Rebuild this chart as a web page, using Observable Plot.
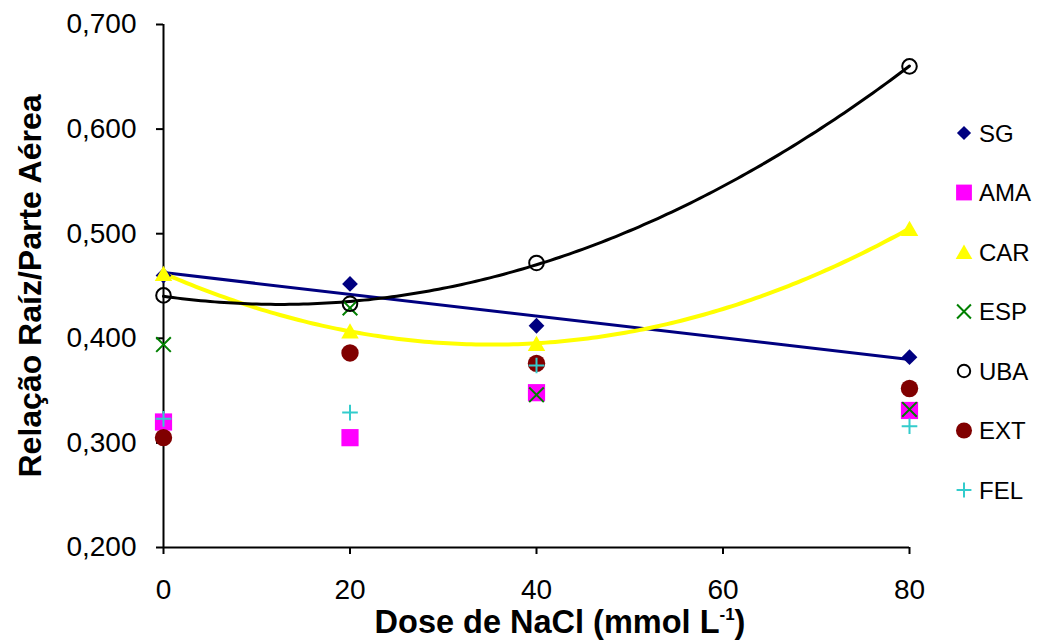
<!DOCTYPE html>
<html>
<head>
<meta charset="utf-8">
<script src="https://cdn.jsdelivr.net/npm/d3@7"></script>
<script src="https://cdn.jsdelivr.net/npm/@observablehq/plot@0.6"></script>
<style>
  body { margin: 0; background: #fff; }
  #chart { position: relative; width: 1042px; height: 641px; overflow: hidden; }
  #legend { position: absolute; left: 0; top: 0; }
</style>
</head>
<body>
<div id="chart"></div>
<script>
// NaCl doses (mmol L-1)
const doses = [0, 20, 40, 80];

// Root / shoot ratio per cultivar at each dose
const SG  = [0.460, 0.452, 0.412, 0.382];
const AMA = [0.320, 0.305, 0.348, 0.331];
const CAR = [0.462, 0.407, 0.395, 0.505];
const ESP = [0.394, 0.429, 0.346, 0.332];
const UBA = [0.441, 0.433, 0.472, 0.660];
const EXT = [0.305, 0.386, 0.376, 0.352];
const FEL = [0.323, 0.329, 0.374, 0.316];

const seriesNames = ["SG", "AMA", "CAR", "ESP", "UBA", "EXT", "FEL"];
const seriesValues = { SG, AMA, CAR, ESP, UBA, EXT, FEL };

const xTicks = [0, 20, 40, 60, 80];
const yTicks = [0.2, 0.3, 0.4, 0.5, 0.6, 0.7];

// Marker appearance per series
const markerStyle = {
  SG:  { symbol: "diamond2", fill: "#000080", stroke: "none",    strokeWidth: 0, r: 7.1 },
  AMA: { symbol: "square",   fill: "#FF00FF", stroke: "none",    strokeWidth: 0, r: 9.7 },
  CAR: { symbol: "triangle", fill: "#FFFF00", stroke: "none",    strokeWidth: 0, r: 6.5, dy: 2.4 },
  ESP: { symbol: "times",    fill: "none",    stroke: "#008000", strokeWidth: 2, r: 6.7 },
  UBA: { symbol: "circle",   fill: "none",    stroke: "#000000", strokeWidth: 2, r: 7.3 },
  EXT: { symbol: "circle",   fill: "#800000", stroke: "none",    strokeWidth: 0, r: 8.7 },
  FEL: { symbol: "plus",     fill: "none",    stroke: "#33CCCC", strokeWidth: 2, r: 5.1 }
};

const rows = seriesNames.flatMap(name =>
  doses.map((dose, i) => ({ name, dose, value: seriesValues[name][i] }))
);

// Least-squares polynomial trend line
function polyfit(xs, ys, order) {
  const n = order + 1;
  const A = Array.from({ length: n }, () => new Array(n + 1).fill(0));
  for (let r = 0; r < n; r++) {
    for (let c = 0; c < n; c++) A[r][c] = d3.sum(xs, x => Math.pow(x, r + c));
    A[r][n] = d3.sum(xs, (x, i) => ys[i] * Math.pow(x, r));
  }
  for (let p = 0; p < n; p++) {
    let best = p;
    for (let r = p + 1; r < n; r++) if (Math.abs(A[r][p]) > Math.abs(A[best][p])) best = r;
    [A[p], A[best]] = [A[best], A[p]];
    for (let r = 0; r < n; r++) {
      if (r === p) continue;
      const f = A[r][p] / A[p][p];
      for (let c = p; c <= n; c++) A[r][c] -= f * A[p][c];
    }
  }
  const coef = A.map((row, i) => row[n] / row[i]);
  return x => coef.reduce((s, c, k) => s + c * Math.pow(x, k), 0);
}

// Second-order trend sampled along the dose range
function trend(values) {
  const f = polyfit(doses, values, 2);
  return d3.range(0, 80.001, 0.5).map(x => ({ dose: x, value: f(x) }));
}

const fmt = d => d.toFixed(3).replace(".", ",");

const dotMarks = seriesNames.map(name => {
  const s = markerStyle[name];
  return Plot.dot(rows.filter(d => d.name === name), {
    x: "dose", y: "value",
    symbol: s.symbol, r: s.r,
    fill: s.fill, stroke: s.stroke, strokeWidth: s.strokeWidth,
    dy: s.dy || 0
  });
});

const plot = Plot.plot({
  width: 1042,
  height: 641,
  marginLeft: 163,
  marginRight: 133,
  marginTop: 24,
  marginBottom: 94,
  style: { fontFamily: "'Liberation Sans', Arial, sans-serif", fontSize: "28px", color: "#000", background: "#fff", overflow: "visible" },
  x: { domain: [0, 80] },
  y: { domain: [0.2, 0.7] },
  marks: [
    Plot.axisX({ ticks: xTicks, tickSize: 7, tickPadding: 25, fontSize: 28, strokeWidth: 2, label: null, tickFormat: d => String(d) }),
    Plot.axisY({ ticks: yTicks, tickSize: 7, tickPadding: 20, fontSize: 28, strokeWidth: 2, label: null, tickFormat: fmt }),
    Plot.ruleY([0.2], { x1: 0, x2: 80, stroke: "#000", strokeWidth: 2 }),
    Plot.ruleX([0], { y1: 0.2, y2: 0.7, stroke: "#000", strokeWidth: 2 }),
    Plot.linearRegressionY(rows.filter(d => d.name === "SG"), { x: "dose", y: "value", ci: 0, stroke: "#000080", strokeWidth: 3 }),
    Plot.line(trend(CAR), { x: "dose", y: "value", stroke: "#FFFF00", strokeWidth: 4 }),
    Plot.line(trend(UBA), { x: "dose", y: "value", stroke: "#000000", strokeWidth: 3 }),
    ...dotMarks,
    Plot.text(["Relação Raíz/Parte Aérea"], {
      frameAnchor: "left", dx: -133, rotate: -90, textAnchor: "middle",
      fontWeight: "bold", fontSize: 32, fill: "#000"
    })
  ]
});

const chart = document.getElementById("chart");
chart.appendChild(plot);

// X axis title with superscript unit
const svg = d3.select(plot.tagName.toLowerCase() === "svg" ? plot : plot.querySelector("svg"));
const xs = plot.scale("x");
const title = svg.append("text")
  .attr("x", (xs.range[0] + xs.range[1]) / 2 + 24)
  .attr("y", 633)
  .attr("text-anchor", "middle")
  .attr("font-weight", "bold")
  .attr("font-size", 32.5)
  .attr("fill", "#000");
title.append("tspan").text("Dose de NaCl (mmol L");
title.append("tspan").attr("dy", -13).attr("font-size", 17).text("-1");
title.append("tspan").attr("dy", 13).text(")");

// Legend
const legend = d3.select(chart).append("svg")
  .attr("id", "legend")
  .attr("width", 1042).attr("height", 641);
const symbolTypes = {
  diamond2: d3.symbolDiamond2, square: d3.symbolSquare, triangle: d3.symbolTriangle,
  times: d3.symbolTimes, circle: d3.symbolCircle, plus: d3.symbolPlus
};
const legendScale = { SG: 0.9, AMA: 0.92, CAR: 0.95, ESP: 0.95, UBA: 0.85, EXT: 0.92, FEL: 0.95 };
seriesNames.forEach((name, i) => {
  const s = markerStyle[name];
  const yPos = 133 + i * 59.5;
  const rr = s.r * legendScale[name];
  legend.append("path")
    .attr("transform", `translate(964,${yPos + (s.dy ? s.dy * 0.9 : 0)})`)
    .attr("d", d3.symbol(symbolTypes[s.symbol], Math.PI * rr * rr)())
    .attr("fill", s.fill)
    .attr("stroke", s.stroke)
    .attr("stroke-width", s.strokeWidth);
  legend.append("text")
    .attr("x", 979).attr("y", yPos)
    .attr("dy", "0.36em")
    .attr("font-family", "'Liberation Sans', Arial, sans-serif")
    .attr("font-size", 24)
    .attr("fill", "#000")
    .text(name);
});
</script>
</body>
</html>
